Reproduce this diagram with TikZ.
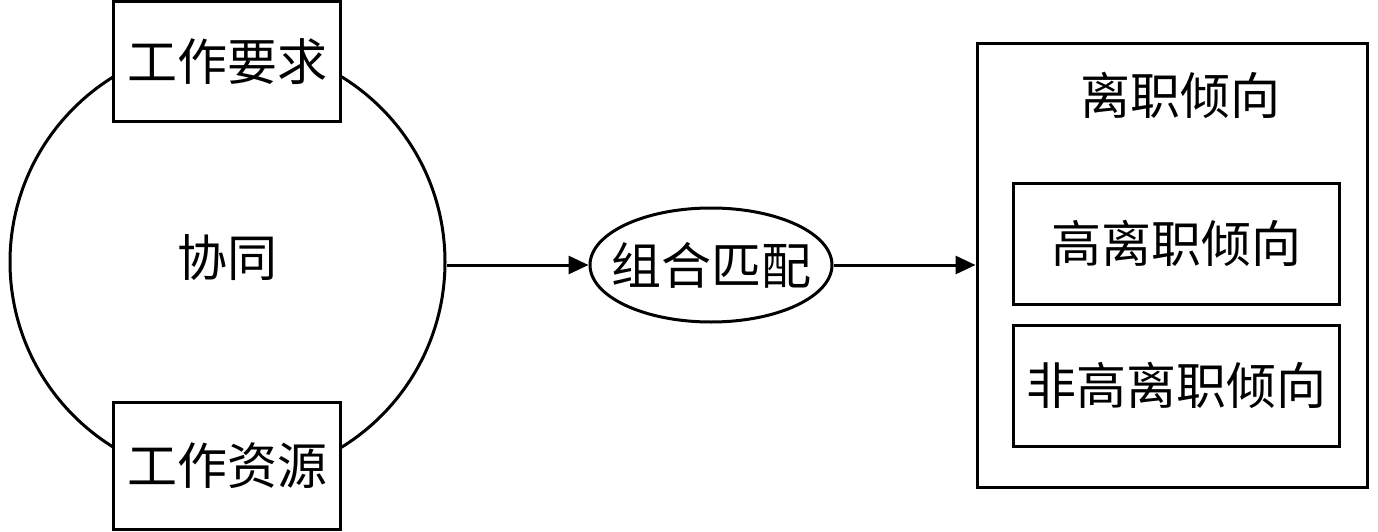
\documentclass[tikz,border=0pt]{standalone}
\usepackage{fontspec}
\newfontfamily\cjk{Noto Sans CJK SC}
\usetikzlibrary{shapes.geometric,arrows.meta}
\tikzset{
  lbl/.style={font=\cjk\fontsize{50}{56}\selectfont, inner sep=0pt},
  box/.style={draw, line width=3pt, fill=white, inner sep=0pt},
  conn/.style={line width=3pt, -{Triangle[length=20pt,width=18pt]}},
}
\begin{document}
\begin{tikzpicture}[x=1pt,y=-1pt]
\useasboundingbox (0,0) rectangle (1378,532);
% big circle
\node[draw, line width=3pt, circle, minimum size=435pt, inner sep=0pt] (circ) at (227.5,262) {};
\node[lbl] (xt) at (227.5,258) {协同};
% boxes over circle
\node[box, minimum width=227pt, minimum height=120pt] (req) at (227,62) {};
\node[lbl] at (req.center) {工作要求};
\node[box, minimum width=227pt, minimum height=127pt] (res) at (227,466) {};
\node[lbl] at (res.center) {工作资源};
% ellipse
\node[draw, line width=3pt, ellipse, minimum width=242pt, minimum height=114pt, inner sep=0pt] (ell) at (711,265) {};
\node[lbl] at (ell.center) {组合匹配};
% right box
\node[box, minimum width=390pt, minimum height=443pt] (out) at (1172,265.5) {};
\node[lbl] at (1180,95) {离职倾向};
\node[box, minimum width=326pt, minimum height=121pt] (hi) at (1176,243.5) {};
\node[lbl] at (hi.center) {高离职倾向};
\node[box, minimum width=326pt, minimum height=121pt] (nhi) at (1176,385.5) {};
\node[lbl] at (nhi.center) {非高离职倾向};
% connectors
\draw[conn] (circ.east |- 0,265) -- (ell.west);
\draw[conn] (ell.east) -- (out.west |- ell.east);
\end{tikzpicture}
\end{document}
